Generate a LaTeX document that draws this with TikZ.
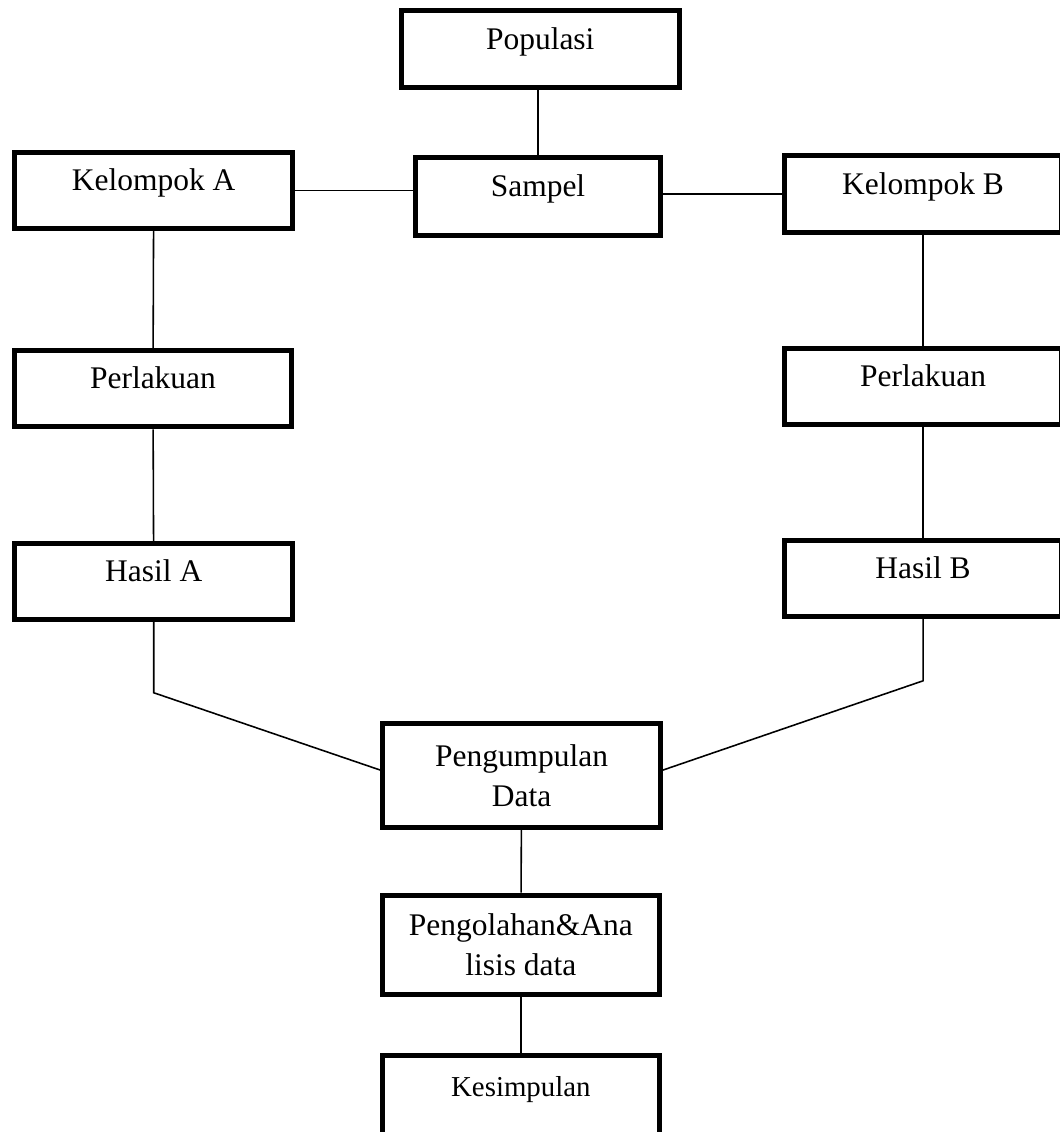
\documentclass[tikz,border=0pt]{standalone}
\usepackage{fontspec}
\setmainfont{Liberation Serif}
\usetikzlibrary{positioning, calc}
\tikzstyle{box} = [rectangle, draw=black, line width=1.9pt, minimum width=3.72cm, minimum height=1.02cm, text height=8.5pt, text depth=8.5pt, inner sep=0pt, font=\fontsize{12}{15.2}\selectfont]
\tikzstyle{tallbox} = [rectangle, draw=black, line width=1.9pt, minimum width=3.72cm, minimum height=1.39cm, align=center, inner sep=0pt, font=\fontsize{12}{15.2}\selectfont]
\tikzstyle{link} = [line width=0.6pt]
\begin{document}
\begin{tikzpicture}
\useasboundingbox (0,0) rectangle (14.20,-15.17);

% Populasi dan sampel
\node[box, minimum height=1.03cm] (populasi) at (7.24,-0.66) {Populasi};
\node[box, minimum width=3.28cm, minimum height=1.05cm] (sampel) at (7.21,-2.63) {Sampel};

% Kelompok A (kiri)
\node[box] (kelompokA) at (2.06,-2.55) {Kelompok A};
\node[box] (perlakuanA) at (2.05,-5.21) {Perlakuan};
\node[box] (hasilA) at (2.06,-7.79) {Hasil A};

% Kelompok B (kanan)
\node[box] (kelompokB) at (12.37,-2.60) {Kelompok B};
\node[box] (perlakuanB) at (12.37,-5.18) {Perlakuan};
\node[box] (hasilB) at (12.37,-7.75) {Hasil B};

% Pengumpulan sampai kesimpulan
\node[tallbox] (pengumpulan) at (6.99,-10.39) {Pengumpulan\\Data};
\node[tallbox, minimum height=1.33cm] (pengolahan) at (6.98,-12.66) {Pengolahan\&Ana\\lisis data};
\node[box, minimum height=1.12cm, font=\fontsize{11}{13}\selectfont] (kesimpulan) at (6.98,-14.70) {Kesimpulan};

% Garis penghubung
\draw[link] (sampel.north |- populasi.south) -- (sampel.north);
\draw[link] (kelompokA.east) -- (kelompokA.east -| sampel.west);
\draw[link] (sampel.east |- kelompokB.west) -- (kelompokB.west);
\draw[link] (kelompokA) -- (perlakuanA);
\draw[link] (perlakuanA) -- (hasilA);
\draw[link] (kelompokB) -- (perlakuanB);
\draw[link] (perlakuanB) -- (hasilB);
\draw[link] (hasilA.south) -- ++(0,-0.95) -- ([yshift=0.07cm]pengumpulan.west);
\draw[link] (hasilB.south) -- ++(0,-0.83) -- ([yshift=0.07cm]pengumpulan.east);
\draw[link] (pengumpulan) -- (pengolahan);
\draw[link] (pengolahan) -- (kesimpulan);

\end{tikzpicture}
\end{document}
